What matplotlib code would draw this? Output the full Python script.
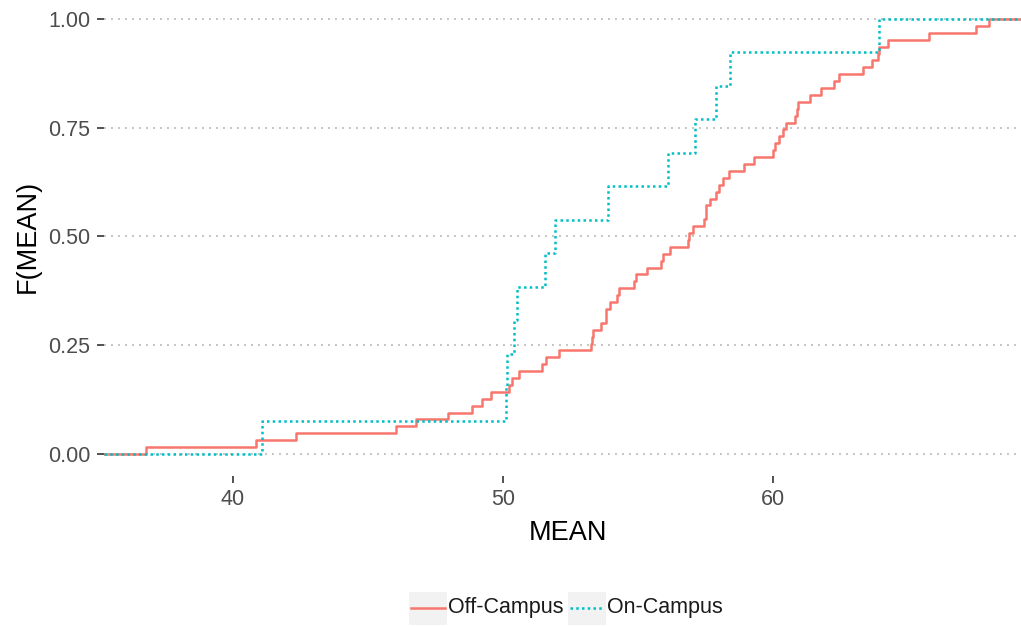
import matplotlib
matplotlib.use("Agg")
import matplotlib.pyplot as plt
from matplotlib.patches import Rectangle
from matplotlib.lines import Line2D
import numpy as np

plt.rcParams['font.family'] = ['Liberation Sans', 'DejaVu Sans']

# mean scores per student, split by residence
off_campus = [36.80, 40.85, 42.35, 46.06, 46.80, 47.97, 48.86, 49.23, 49.58, 50.25,
              50.35, 50.62, 51.45, 51.60, 52.09, 53.28, 53.30, 53.35, 53.65, 53.82,
              53.82, 53.96, 54.22, 54.32, 54.85, 54.95, 55.35, 55.88, 55.92, 56.20,
              56.86, 56.90, 57.05, 57.44, 57.52, 57.52, 57.67, 57.90, 58.00, 58.16,
              58.38, 58.94, 59.30, 60.01, 60.10, 60.23, 60.36, 60.50, 60.81, 60.88,
              60.95, 61.39, 61.79, 62.25, 62.45, 63.35, 63.67, 63.90, 63.93, 64.25,
              65.79, 67.54, 68.00]
on_campus = [41.10, 50.13, 50.15, 50.42, 50.52, 51.58, 51.95, 53.90, 56.12, 57.13,
             57.90, 58.43, 63.93]

groups = ['Off-Campus', 'On-Campus']
colors = ['#F8766D', '#00BFC4']
styles = ['-', (0, (1, 1.3))]
x_ticks = [40, 50, 60]
y_ticks = [0.0, 0.25, 0.5, 0.75, 1.0]

W, H = 1021, 627
fig = plt.figure(figsize=(W / 100, H / 100), dpi=100)
ax = fig.add_axes([104 / W, (H - 475.75) / H, 927 / W, 478.5 / H])

allv = np.array(off_campus + on_campus)
lo, hi = allv.min(), allv.max()
pad = 0.05 * (hi - lo)
xlim = (lo - pad, hi + pad)


def ecdf(vals):
    xs = np.sort(np.asarray(vals))
    ys = np.arange(1, len(xs) + 1) / len(xs)
    xs = np.concatenate([[xlim[0]], xs, [xlim[1]]])
    ys = np.concatenate([[0.0], ys, [1.0]])
    return xs, ys


for vals, c, ls in zip([off_campus, on_campus], colors, styles):
    x, y = ecdf(vals)
    ax.step(x, y, where='post', color=c, linestyle=ls, lw=1.8, zorder=3)

ax.set_xlim(*xlim)
ax.set_ylim(-0.05, 1.05)
ax.set_xticks(x_ticks)
ax.set_yticks(y_ticks)
ax.set_yticklabels(['%.2f' % v for v in y_ticks])
ax.grid(axis='y', color='#c4c4c4', linestyle=(0, (1, 2.6)), lw=1.4)
ax.grid(axis='x', visible=False)
for s in ax.spines.values():
    s.set_visible(False)
ax.tick_params(length=5.3, width=1.2, color='#333333', labelsize=15.5,
               labelcolor='#4D4D4D', pad=4.5)
ax.set_xlabel('MEAN', fontsize=19.5, labelpad=7)
ax.set_ylabel('F(MEAN)', fontsize=19.5, labelpad=5)

# legend at the bottom with grey key boxes
def px(x, y):
    return x / W, 1 - y / H

key_x = [409, 568]
for kx, name, c, ls in zip(key_x, groups, colors, styles):
    x0, y0 = px(kx, 625)
    fig.patches.append(Rectangle((x0, y0), 38 / W, 33 / H, transform=fig.transFigure,
                                 facecolor='#F2F2F2', edgecolor='none'))
    xa, ya = px(kx + 2, 608)
    xb, _ = px(kx + 36, 608)
    fig.lines.append(Line2D([xa, xb], [ya, ya], transform=fig.transFigure,
                            color=c, linestyle=ls, lw=1.8))
    tx, ty = px(kx + 39, 608)
    fig.text(tx, ty, name, fontsize=15.5, color='#1a1a1a', ha='left', va='center')

fig.savefig('out.png', dpi=100)
